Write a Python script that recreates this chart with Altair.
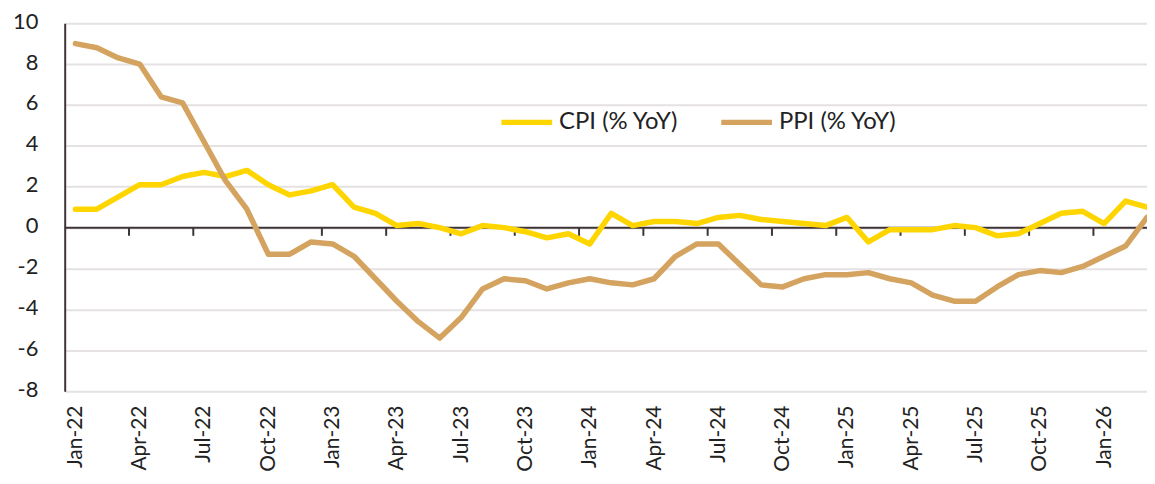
import altair as alt
import pandas as pd

months = [
    "Jan-22", "Feb-22", "Mar-22", "Apr-22", "May-22", "Jun-22", "Jul-22", "Aug-22", "Sep-22", "Oct-22", "Nov-22", "Dec-22",
    "Jan-23", "Feb-23", "Mar-23", "Apr-23", "May-23", "Jun-23", "Jul-23", "Aug-23", "Sep-23", "Oct-23", "Nov-23", "Dec-23",
    "Jan-24", "Feb-24", "Mar-24", "Apr-24", "May-24", "Jun-24", "Jul-24", "Aug-24", "Sep-24", "Oct-24", "Nov-24", "Dec-24",
    "Jan-25", "Feb-25", "Mar-25", "Apr-25", "May-25", "Jun-25", "Jul-25", "Aug-25", "Sep-25", "Oct-25", "Nov-25", "Dec-25",
    "Jan-26", "Feb-26", "Mar-26",
]

cpi = [
    0.9, 0.9, 1.5, 2.1, 2.1, 2.5, 2.7, 2.5, 2.8, 2.1, 1.6, 1.8,
    2.1, 1.0, 0.7, 0.1, 0.2, 0.0, -0.3, 0.1, 0.0, -0.2, -0.5, -0.3,
    -0.8, 0.7, 0.1, 0.3, 0.3, 0.2, 0.5, 0.6, 0.4, 0.3, 0.2, 0.1,
    0.5, -0.7, -0.1, -0.1, -0.1, 0.1, 0.0, -0.4, -0.3, 0.2, 0.7, 0.8,
    0.2, 1.3, 1.0,
]

ppi = [
    9.0, 8.8, 8.3, 8.0, 6.4, 6.1, 4.2, 2.3, 0.9, -1.3, -1.3, -0.7,
    -0.8, -1.4, -2.5, -3.6, -4.6, -5.4, -4.4, -3.0, -2.5, -2.6, -3.0, -2.7,
    -2.5, -2.7, -2.8, -2.5, -1.4, -0.8, -0.8, -1.8, -2.8, -2.9, -2.5, -2.3,
    -2.3, -2.2, -2.5, -2.7, -3.3, -3.6, -3.6, -2.9, -2.3, -2.1, -2.2, -1.9,
    -1.4, -0.9, 0.5,
]

series_names = ["CPI (% YoY)", "PPI (% YoY)"]
series_colors = ["#FFD500", "#D4A35F"]
y_ticks = [-8, -6, -4, -2, 0, 2, 4, 6, 8, 10]

FONT = "Lato"
AX = "#3E3437"
GRID = "#E6E1E3"

rows = []
for i, m in enumerate(months):
    rows.append({"i": i, "month": m, "series": series_names[0], "value": cpi[i]})
    rows.append({"i": i, "month": m, "series": series_names[1], "value": ppi[i]})
df = pd.DataFrame(rows)

n = len(months)
label_positions = list(range(0, n, 3))
tick_positions = [p - 0.5 for p in range(3, n, 3)]

label_expr = "[" + ",".join("'" + m + "'" for m in months) + "][datum.value]"

x_scale = alt.Scale(domain=[-0.5, n - 1], nice=False, zero=False)
y_scale = alt.Scale(domain=[-8, 10], nice=False)

x_axis = alt.Axis(
    values=label_positions,
    labelExpr=label_expr,
    labelAngle=270,
    labelFont=FONT,
    labelFontSize=21,
    labelColor="#222222",
    labelPadding=14,
    ticks=False,
    domain=False,
    grid=False,
    title=None,
    labelOverlap=False,
)
y_axis = alt.Axis(
    values=y_ticks,
    labelExpr="'' + datum.value",
    labelFont=FONT,
    labelFontSize=22,
    labelColor="#222222",
    labelPadding=27,
    labelOffset=-2,
    ticks=False,
    domain=True,
    domainColor=AX,
    domainWidth=2,
    grid=True,
    gridColor=GRID,
    gridWidth=2,
    title=None,
)

lines = alt.Chart(df).mark_line(strokeWidth=5.5, strokeCap="round", strokeJoin="round").encode(
    x=alt.X("i:Q", scale=x_scale, axis=x_axis),
    y=alt.Y("value:Q", scale=y_scale, axis=y_axis),
    color=alt.Color(
        "series:N",
        scale=alt.Scale(domain=series_names, range=series_colors),
        legend=alt.Legend(
            title=None,
            orient="none",
            direction="horizontal",
            legendX=436,
            legendY=71,
            symbolType="stroke",
            symbolSize=2601,
            symbolStrokeWidth=5.5,
            labelFont=FONT,
            labelFontSize=24,
            labelColor="#222222",
            labelOffset=4,
            columnPadding=32,
            padding=0,
        ),
    ),
    detail="series:N",
)

zero_df = pd.DataFrame({"v": [0]})
zero = alt.Chart(zero_df).mark_rule(color=AX, strokeWidth=2).encode(
    y=alt.Y("v:Q", scale=y_scale, axis=y_axis)
)

ticks_df = pd.DataFrame({"x": tick_positions, "y": [0] * len(tick_positions), "y2": [-0.4] * len(tick_positions)})
ticks = alt.Chart(ticks_df).mark_rule(color=AX, strokeWidth=2).encode(
    x=alt.X("x:Q", scale=x_scale, axis=x_axis),
    y=alt.Y("y:Q", scale=y_scale, axis=y_axis),
    y2="y2:Q",
)

chart = (
    alt.layer(zero, ticks, lines)
    .properties(
        width=1088,
        height=370,
        padding={"left": 57, "top": 14, "right": 0, "bottom": 84},
        autosize=alt.AutoSizeParams(type="none"),
        background="white",
    )
    .configure_view(stroke=None)
)

chart.save("out.html", embed_options={"renderer": "svg", "actions": False})
